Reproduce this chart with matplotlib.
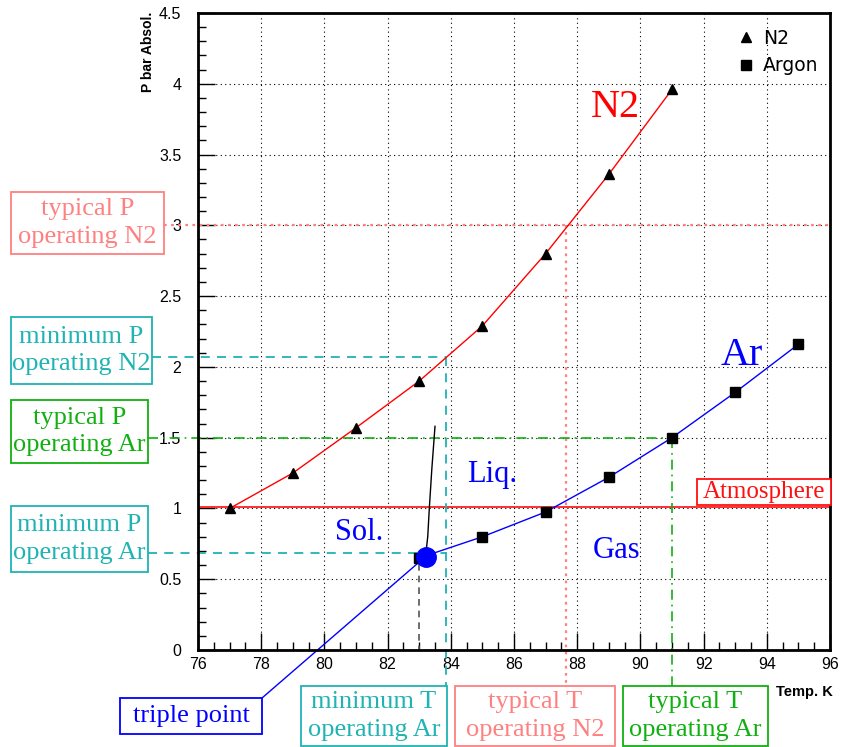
import matplotlib.pyplot as plt
from matplotlib.patches import Rectangle
from matplotlib.ticker import MultipleLocator, FormatStrFormatter

# vapour pressure points (T in K, P in bar absolute)
n2_T = [77, 79, 81, 83, 85, 87, 89, 91]
n2_P = [1.00, 1.25, 1.57, 1.90, 2.29, 2.80, 3.36, 3.96]
ar_T = [83, 85, 87, 89, 91, 93, 95]
ar_P = [0.65, 0.80, 0.975, 1.22, 1.50, 1.82, 2.16]

# argon triple point and melting curve
triple_T, triple_P = 83.2, 0.66
melt_T = [83.2, 83.27, 83.32, 83.40, 83.50]
melt_P = [0.66, 0.80, 1.00, 1.28, 1.58]

# operating values
p_atm = 1.013
p_typ_n2 = 3.0
p_min_n2 = 2.07
p_typ_ar = 1.5
p_min_ar = 0.685
t_min_ar = 83.84
t_typ_n2 = 87.63
t_typ_ar = 91.0

pink = '#ff8080'
cyan = '#1fb3b3'
green = '#10b010'
serif = 'Liberation Serif'
sans = 'Liberation Sans'

W, H = 843, 747
fig = plt.figure(figsize=(W / 100, H / 100), dpi=100)
ax = fig.add_axes([198 / W, 97 / H, 632 / W, 637 / H])
ax.set_xlim(76, 96)
ax.set_ylim(0, 4.5)

def fx(px):
    return px / W

def fy(py):
    return 1 - py / H

# pixel -> data, for guide lines that run out to the boxes
def px2x(px):
    return 76 + (px - 198) / 31.6

def py2y(py):
    return (650 - py) / 141.5

# grid and ticks
ax.xaxis.set_major_locator(MultipleLocator(2))
ax.xaxis.set_minor_locator(MultipleLocator(0.5))
ax.yaxis.set_major_locator(MultipleLocator(0.5))
ax.yaxis.set_minor_locator(MultipleLocator(0.1))
ax.yaxis.set_major_formatter(FormatStrFormatter('%g'))
ax.tick_params(which='both', direction='in', top=False, right=False,
               labelsize=11.5, labelfontfamily=sans)
ax.tick_params(which='major', length=12, width=1)
ax.tick_params(which='minor', length=6, width=1)
ax.tick_params(axis='y', pad=12)
ax.tick_params(axis='x', pad=5)
ax.grid(True, which='major', color='black', linestyle=(0, (1, 3)), linewidth=0.8)
for s in ax.spines.values():
    s.set_linewidth(2)

# atmosphere
ax.axhline(p_atm, color='#ff2020', lw=1.3)

# guide lines
ax.plot([px2x(164), 96], [p_typ_n2, p_typ_n2], color=pink, lw=1.6, ls=(0, (1.2, 2)), clip_on=False)
ax.plot([t_typ_n2, t_typ_n2], [p_typ_n2, py2y(686)], color=pink, lw=1.6, ls=(0, (1.2, 2)), clip_on=False)
ax.plot([px2x(152), t_min_ar], [p_min_n2, p_min_n2], color=cyan, lw=1.3, ls=(0, (5, 4)), clip_on=False)
ax.plot([t_min_ar, t_min_ar], [p_min_n2, py2y(686)], color=cyan, lw=1.3, ls=(0, (5, 4)), clip_on=False)
ax.plot([px2x(148), t_min_ar], [p_min_ar, p_min_ar], color=cyan, lw=1.3, ls=(0, (5, 4)), clip_on=False)
ax.plot([px2x(148), t_typ_ar], [p_typ_ar, p_typ_ar], color=green, lw=1.2, ls=(0, (6, 3, 1, 3)), clip_on=False)
ax.plot([t_typ_ar, t_typ_ar], [p_typ_ar, py2y(686)], color=green, lw=1.2, ls=(0, (6, 3, 1, 3)), clip_on=False)
ax.plot([triple_T - 0.2, triple_T - 0.2], [triple_P - 0.05, 0], color='#555555', lw=1.2, ls=(0, (4, 3)))

# curves
ax.plot(n2_T, n2_P, color='red', lw=1)
ax.plot(ar_T, ar_P, color='blue', lw=1)
ax.plot(melt_T, melt_P, color='black', lw=1)
ax.plot([triple_T, px2x(262)], [triple_P, py2y(698)], color='blue', lw=1, clip_on=False)

ax.plot(n2_T, n2_P, '^', color='black', ms=7.5, ls='none', label='N2')
ax.plot(ar_T, ar_P, 's', color='black', ms=6.5, ls='none', label='Argon')
ax.plot([triple_T], [triple_P], 'o', color='blue', ms=14, zorder=5)

leg = ax.legend(loc='upper left', bbox_to_anchor=(fx(718), fy(12)), bbox_transform=fig.transFigure,
                frameon=False, handletextpad=0.3, labelspacing=0.45, handlelength=1.2,
                prop={'family': 'DejaVu Sans', 'size': 13.5})

# region labels
ax.text(89.2, 3.83, 'N2', color='red', fontsize=29, family=serif, ha='center', va='center')
ax.text(93.2, 2.08, 'Ar', color='blue', fontsize=29, family=serif, ha='center', va='center')
ax.text(85.3, 1.24, 'Liq.', color='blue', fontsize=22, family=serif, ha='center', va='center')
ax.text(81.1, 0.83, 'Sol.', color='blue', fontsize=22, family=serif, ha='center', va='center')
ax.text(89.25, 0.70, 'Gas', color='blue', fontsize=22, family=serif, ha='center', va='center')

# boxed annotations (pixel boxes)
def box(x0, y0, x1, y1, text, color, size=19):
    fig.add_artist(Rectangle((fx(x0), fy(y1)), fx(x1) - fx(x0), fy(y0) - fy(y1),
                             transform=fig.transFigure, facecolor='white',
                             edgecolor=color, lw=1.3, zorder=3))
    fig.text(fx((x0 + x1) / 2), fy((y0 + y1) / 2), text, color=color, fontsize=size,
             family=serif, ha='center', va='center', multialignment='center',
             linespacing=1.3, zorder=4)

box(11, 192, 164, 254, 'typical P\noperating N2', pink)
box(11, 317, 152, 384, 'minimum P\noperating N2', cyan)
box(11, 400, 148, 463, 'typical P\noperating Ar', green)
box(11, 506, 148, 572, 'minimum P\noperating Ar', cyan)
box(120, 698, 262, 734, 'triple point', 'blue')
box(301, 686, 447, 746, 'minimum T\noperating Ar', cyan)
box(455, 686, 615, 746, 'typical T\noperating N2', pink)
box(623, 686, 768, 746, 'typical T\noperating Ar', green)
box(697, 479, 831, 505, 'Atmosphere', '#ff1010', size=18)

# axis titles
fig.text(fx(148), fy(12), 'P bar Absol.', rotation=90, ha='center', va='top',
         fontsize=10, fontweight='bold', family=sans)
fig.text(fx(804), fy(692), 'Temp. K', ha='center', va='center',
         fontsize=10.5, fontweight='bold', family=sans)

fig.savefig('out.png', dpi=100)
